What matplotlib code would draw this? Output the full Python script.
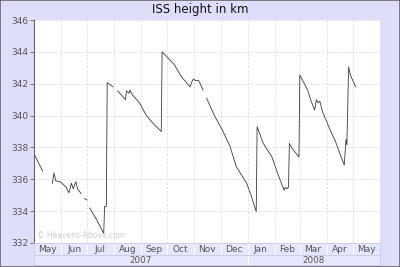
import numpy as np
import matplotlib
matplotlib.use("Agg")
import matplotlib.pyplot as plt
import matplotlib.dates as mdates
from matplotlib.patches import Rectangle

# ISS mean height (km); None marks a gap in the record
dates = ["2007-05-02", "2007-05-11", None,
         "2007-05-22", "2007-05-24", "2007-05-26", "2007-05-31", "2007-06-03",
         "2007-06-07", "2007-06-10", "2007-06-13", "2007-06-15", "2007-06-18",
         "2007-06-20", "2007-06-24", None,
         "2007-06-28", "2007-07-01", None,
         "2007-07-04", "2007-07-12", "2007-07-20", "2007-07-21", "2007-07-23",
         "2007-07-24", "2007-07-31", None,
         "2007-08-05", "2007-08-14", "2007-08-15", "2007-08-18", "2007-08-19",
         "2007-08-22", "2007-08-30", "2007-09-07", "2007-09-14", "2007-09-24",
         "2007-09-25", "2007-10-09", "2007-10-17", "2007-10-27", "2007-10-29",
         "2007-10-31", "2007-11-02", "2007-11-06", "2007-11-11", None,
         "2007-11-15", "2007-11-24", "2007-12-04", "2007-12-12", "2007-12-19",
         "2007-12-31", "2008-01-05", "2008-01-11",
         "2008-01-12", "2008-01-19", "2008-01-29", "2008-02-05", "2008-02-12",
         "2008-02-13", "2008-02-15", "2008-02-17",
         "2008-02-18", "2008-02-21", "2008-02-29",
         "2008-03-01", "2008-03-10", "2008-03-14", "2008-03-18", "2008-03-20",
         "2008-03-22", "2008-03-24", "2008-03-27", "2008-04-04", "2008-04-11",
         "2008-04-16", "2008-04-21", "2008-04-23", "2008-04-24",
         "2008-04-26", "2008-04-28", "2008-05-04"]
height = [337.5, 336.5, None,
          335.75, 336.4, 335.9, 335.85, 335.7,
          335.5, 335.15, 335.75, 335.4, 335.85,
          335.4, 335.1, None,
          334.8, 334.7, None,
          334.2, 333.45, 332.6, 334.3, 334.3,
          342.06, 341.8, None,
          341.55, 341.0, 341.55, 341.4, 341.6,
          341.3, 340.8, 340.0, 339.55, 339.0,
          344.0, 343.2, 342.45, 341.8, 342.1,
          342.3, 342.2, 342.2, 341.6, None,
          341.1, 340.0, 339.0, 338.05, 336.8,
          335.75, 335.0, 333.97,
          339.3, 338.26, 337.4, 336.3, 335.3,
          335.5, 335.4, 335.5,
          338.26, 337.95, 337.4,
          342.55, 341.6, 340.9, 340.35, 341.0,
          340.8, 340.9, 340.25, 339.2, 338.36,
          337.6, 336.9, 338.5, 338.15,
          343.07, 342.55, 341.8]

month_labels = ["May", "Jun", "Jul", "Aug", "Sep", "Oct", "Nov", "Dec",
                "Jan", "Feb", "Mar", "Apr", "May"]
year_labels = ["2007", "2008"]

x = np.array([np.datetime64(d) if d else np.datetime64("NaT") for d in dates],
             dtype="datetime64[D]")
y = np.array([v if v is not None else np.nan for v in height], dtype=float)

bg = "#dedefa"
band = "#e6e6fc"
txt = "#555555"

fig = plt.figure(figsize=(4, 2.67), dpi=100, facecolor=bg)
fig.patches.append(Rectangle((0, 0), 1, 1, transform=fig.transFigure,
                             fill=False, edgecolor="#666666", lw=1.2))

L, R = 34 / 400, 380 / 400
ax = fig.add_axes([L, 1 - 243 / 267, R - L, (243 - 20) / 267])
ax.set_facecolor("white")
ax.plot(x, y, color="#3a3a3a", lw=0.6)

x0 = np.datetime64("2007-05-01")
x1 = np.datetime64("2008-06-01")
ax.set_xlim(x0, x1)
ax.set_ylim(332, 346)
ax.set_yticks(np.arange(332, 347, 2))
ax.xaxis.set_major_locator(mdates.MonthLocator())
ax.tick_params(axis="x", length=0, labelbottom=False)
ax.tick_params(axis="y", length=3, width=0.6, color="#666666",
               labelsize=6.5, labelcolor=txt, pad=1)
ax.grid(True, color="#dddddd", ls=(0, (3, 2)), lw=0.6)
for s in ["top", "right", "bottom"]:
    ax.spines[s].set_visible(False)
ax.spines["left"].set_color("#666666")
ax.spines["left"].set_linewidth(0.8)
ax.text(0.01, 0.015, "© Heavens-Above.com", transform=ax.transAxes,
        fontsize=5.5, color="#cccccc", va="bottom", ha="left")

# month row
months = np.arange(np.datetime64("2007-05"), np.datetime64("2008-07"),
                   dtype="datetime64[M]").astype("datetime64[D]")
axm = fig.add_axes([L, 1 - 255 / 267, R - L, 12 / 267], sharex=ax)
axm.set_facecolor(band)
for m in months[1:-1]:
    axm.axvline(m, color="#ffffff", lw=0.8)
for i, lab in enumerate(month_labels):
    mid = months[i] + (months[i + 1] - months[i]) / 2
    axm.text(mid, 0.45, lab, ha="center", va="center", fontsize=6.5,
             color=txt, transform=axm.get_xaxis_transform())
axm.set_yticks([])
axm.tick_params(axis="x", length=0, labelbottom=False)
for s in axm.spines.values():
    s.set_color("#c8c8e8")
    s.set_linewidth(0.6)

# year row
years = [np.datetime64("2007-05-01"), np.datetime64("2008-01-01"), x1]
axy = fig.add_axes([L, 1 - 265 / 267, R - L, 10 / 267], sharex=ax)
axy.set_facecolor(band)
axy.axvline(years[1], color="#ffffff", lw=0.8)
for i, lab in enumerate(year_labels):
    mid = years[i] + (years[i + 1] - years[i]) / 2
    axy.text(mid, 0.45, lab, ha="center", va="center", fontsize=6.3,
             color=txt, transform=axy.get_xaxis_transform())
axy.set_yticks([])
axy.tick_params(axis="x", length=0, labelbottom=False)
for s in axy.spines.values():
    s.set_color("#c8c8e8")
    s.set_linewidth(0.6)

fig.text(0.5, 1 - 10 / 267, "ISS height in km", ha="center", va="center",
         fontsize=8.5, color="#111111")

fig.savefig("out.png", dpi=100, facecolor=bg)
